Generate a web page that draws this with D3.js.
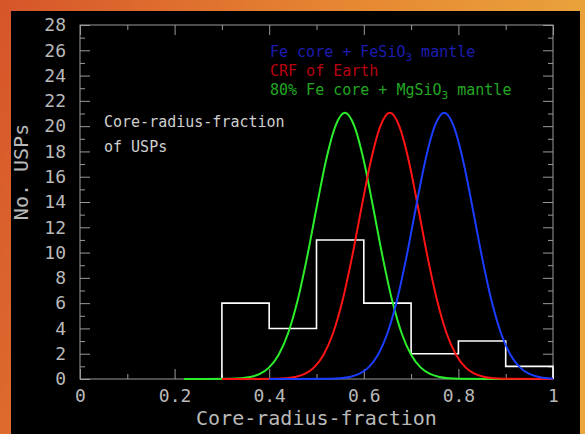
<!DOCTYPE html>
<html>
<head>
<meta charset="utf-8">
<script src="https://cdn.jsdelivr.net/npm/d3@7"></script>
<style>
  body { margin: 0; background: #000; }
  svg { display: block; }
</style>
</head>
<body>
<svg id="chart" width="585" height="434"></svg>
<script>
// histogram of core-radius-fraction
const binEdges = [0.3, 0.4, 0.5, 0.6, 0.7, 0.8, 0.9, 1.0]
const binCounts = [6, 4, 11, 6, 2, 3, 1]

// model curves
const greenX = [0.22, 0.32, 0.34, 0.36, 0.38, 0.40, 0.42, 0.44, 0.46, 0.48, 0.50, 0.52, 0.54, 0.56, 0.58, 0.60, 0.62, 0.64, 0.66, 0.68, 0.70, 0.72, 0.74, 0.76, 0.78, 0.80, 1.0]
const greenY = [0, 0.02, 0.06, 0.16, 0.40, 0.92, 1.92, 3.62, 6.20, 9.62, 13.53, 17.27, 20.0, 21.05, 20.0, 17.27, 13.53, 9.62, 6.20, 3.62, 1.92, 0.92, 0.40, 0.16, 0.06, 0.02, 0]
const redX = [0.30, 0.415, 0.435, 0.455, 0.475, 0.495, 0.515, 0.535, 0.555, 0.575, 0.595, 0.615, 0.635, 0.655, 0.675, 0.695, 0.715, 0.735, 0.755, 0.775, 0.795, 0.815, 0.835, 0.855, 0.875, 0.895, 1.0]
const redY = [0, 0.02, 0.06, 0.16, 0.40, 0.92, 1.92, 3.62, 6.20, 9.62, 13.53, 17.27, 20.0, 21.05, 20.0, 17.27, 13.53, 9.62, 6.20, 3.62, 1.92, 0.92, 0.40, 0.16, 0.06, 0.02, 0]
const blueX = [0.40, 0.53, 0.55, 0.57, 0.59, 0.61, 0.63, 0.65, 0.67, 0.69, 0.71, 0.73, 0.75, 0.77, 0.79, 0.81, 0.83, 0.85, 0.87, 0.89, 0.91, 0.93, 0.95, 0.97, 0.99, 1.0]
const blueY = [0, 0.02, 0.06, 0.16, 0.40, 0.92, 1.92, 3.62, 6.20, 9.62, 13.53, 17.27, 20.0, 21.05, 20.0, 17.27, 13.53, 9.62, 6.20, 3.62, 1.92, 0.92, 0.40, 0.16, 0.06, 0.04]

const xTicks = [0, 0.2, 0.4, 0.6, 0.8, 1]
const xMinor = [0.1, 0.3, 0.5, 0.7, 0.9]
const yTicks = d3.range(0, 29, 2)
const yMinor = d3.range(1, 28, 2)

const font = '"DejaVu Sans Mono", monospace'
const axisColor = '#9a9a9a'
const labelColor = '#b9b9b9'

const svg = d3.select('#chart')

// orange frame
const defs = svg.append('defs')
const grad = defs.append('linearGradient')
    .attr('id', 'bg')
    .attr('x1', 0).attr('y1', 0).attr('x2', 1).attr('y2', 0.25)
grad.append('stop').attr('offset', '0%').attr('stop-color', '#d6552a')
grad.append('stop').attr('offset', '55%').attr('stop-color', '#e68632')
grad.append('stop').attr('offset', '100%').attr('stop-color', '#eaa63c')

svg.append('rect').attr('width', 585).attr('height', 434).attr('fill', 'url(#bg)')
svg.append('rect').attr('x', 11).attr('y', 11).attr('width', 569).attr('height', 423).attr('fill', '#000')

const x = d3.scaleLinear().domain([0, 1]).range([80, 553])
const y = d3.scaleLinear().domain([0, 28]).range([379, 25])

const g = svg.append('g')

// axes, ticks pointing inward
const styleAxis = (sel) => {
    sel.select('.domain').remove()
    sel.selectAll('line').attr('stroke', axisColor)
    sel.selectAll('text')
        .attr('fill', labelColor)
        .attr('font-family', font)
        .attr('font-size', '18px')
}

g.append('g')
    .attr('transform', `translate(0,${y(0)})`)
    .call(d3.axisBottom(x).tickValues(xTicks).tickSize(-10).tickFormat(d3.format('')))
    .call(styleAxis)
    .selectAll('text').attr('y', 23).attr('dy', null)
g.append('g')
    .attr('transform', `translate(0,${y(0)})`)
    .call(d3.axisBottom(x).tickValues(xMinor).tickSize(-5).tickFormat(''))
    .call(styleAxis)
g.append('g')
    .attr('transform', `translate(0,${y(28)})`)
    .call(d3.axisTop(x).tickValues(xTicks).tickSize(-10).tickFormat(''))
    .call(styleAxis)
g.append('g')
    .attr('transform', `translate(0,${y(28)})`)
    .call(d3.axisTop(x).tickValues(xMinor).tickSize(-5).tickFormat(''))
    .call(styleAxis)

g.append('g')
    .attr('transform', `translate(${x(0)},0)`)
    .call(d3.axisLeft(y).tickValues(yTicks).tickSize(-10))
    .call(styleAxis)
    .selectAll('text').attr('x', -14)
g.append('g')
    .attr('transform', `translate(${x(0)},0)`)
    .call(d3.axisLeft(y).tickValues(yMinor).tickSize(-5).tickFormat(''))
    .call(styleAxis)
g.append('g')
    .attr('transform', `translate(${x(1)},0)`)
    .call(d3.axisRight(y).tickValues(yTicks).tickSize(-10).tickFormat(''))
    .call(styleAxis)
g.append('g')
    .attr('transform', `translate(${x(1)},0)`)
    .call(d3.axisRight(y).tickValues(yMinor).tickSize(-5).tickFormat(''))
    .call(styleAxis)

// frame
g.append('rect')
    .attr('x', x(0)).attr('y', y(28))
    .attr('width', x(1) - x(0)).attr('height', y(0) - y(28))
    .attr('fill', 'none')
    .attr('stroke', axisColor)

// histogram outline
const histPts = [[binEdges[0], 0]]
binCounts.forEach((c, i) => {
    histPts.push([binEdges[i], c])
    histPts.push([binEdges[i + 1], c])
})
histPts.push([binEdges[binEdges.length - 1], 0])

g.append('path')
    .datum(histPts)
    .attr('fill', 'none')
    .attr('stroke', '#fff')
    .attr('stroke-width', 1.6)
    .attr('d', d3.line().x(d => x(d[0])).y(d => y(d[1])))

// curves
const curve = d3.line()
    .x(d => x(d[0]))
    .y(d => y(d[1]))
    .curve(d3.curveMonotoneX)

const series = [
    { xs: greenX, ys: greenY, color: '#2bef2b' },
    { xs: redX, ys: redY, color: '#ff1414' },
    { xs: blueX, ys: blueY, color: '#1a3dff' }
]
series.forEach(s => {
    g.append('path')
        .datum(s.xs.map((v, i) => [v, s.ys[i]]))
        .attr('fill', 'none')
        .attr('stroke', s.color)
        .attr('stroke-width', 2)
        .attr('d', curve)
})

// legend
const legend = [
    { pre: 'Fe core + FeSiO', post: ' mantle', color: '#1c1cb0', yy: 57 },
    { pre: 'CRF of Earth', post: null, color: '#b80010', yy: 76 },
    { pre: '80% Fe core + MgSiO', post: ' mantle', color: '#22a622', yy: 95 }
]
legend.forEach(l => {
    const t = g.append('text')
        .attr('x', 270).attr('y', l.yy)
        .attr('fill', l.color)
        .attr('font-family', font)
        .attr('font-size', '15px')
    t.append('tspan').text(l.pre)
    if (l.post) {
        t.append('tspan').attr('dy', 4).attr('font-size', '11px').text('3')
        t.append('tspan').attr('dy', -4).text(l.post)
    }
})

// annotation
g.append('text')
    .attr('x', 104).attr('y', 127)
    .attr('fill', '#cfcfcf')
    .attr('font-family', font)
    .attr('font-size', '15px')
    .text('Core-radius-fraction')
g.append('text')
    .attr('x', 104).attr('y', 152)
    .attr('fill', '#cfcfcf')
    .attr('font-family', font)
    .attr('font-size', '15px')
    .text('of USPs')

// axis titles
g.append('text')
    .attr('x', (x(0) + x(1)) / 2).attr('y', 425)
    .attr('text-anchor', 'middle')
    .attr('fill', labelColor)
    .attr('font-family', font)
    .attr('font-size', '20px')
    .text('Core-radius-fraction')

g.append('text')
    .attr('transform', 'rotate(-90)')
    .attr('x', -172).attr('y', 28)
    .attr('text-anchor', 'middle')
    .attr('fill', labelColor)
    .attr('font-family', font)
    .attr('font-size', '20px')
    .text('No. USPs')
</script>
</body>
</html>
